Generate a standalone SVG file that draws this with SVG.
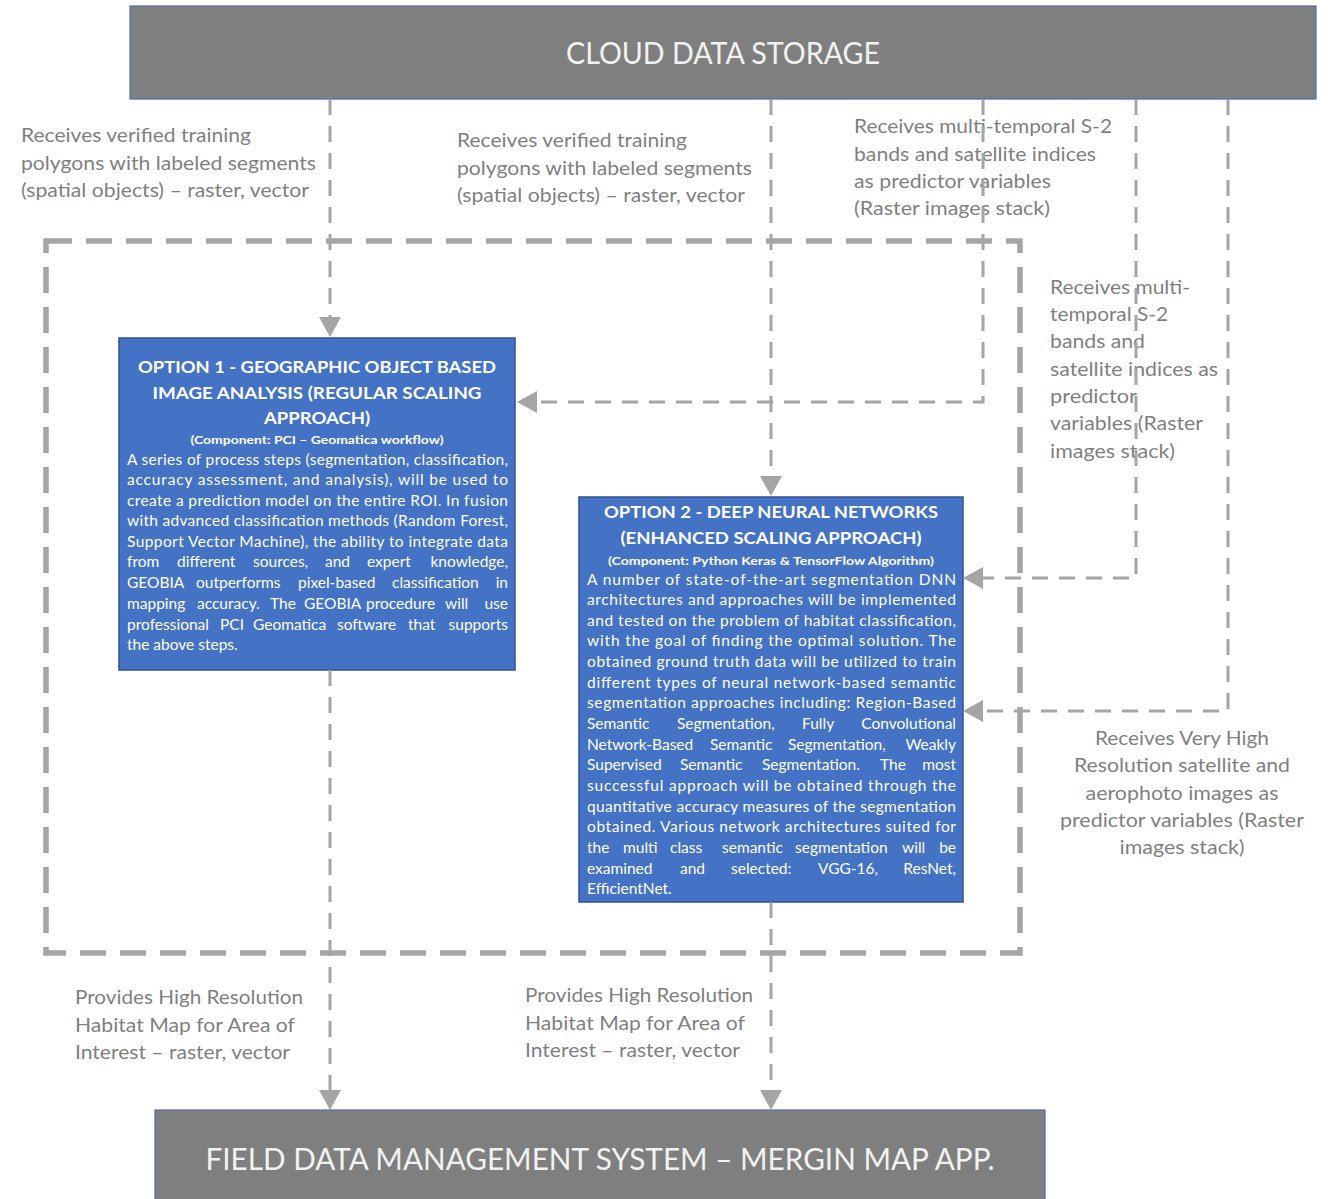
<svg xmlns="http://www.w3.org/2000/svg" width="1328" height="1199" viewBox="0 0 1328 1199">
  <style>
    .lbl { font-family: Lato, "Open Sans", "Liberation Sans", sans-serif; font-size: 19px; fill: #7f7f7f; }
    .lblc { text-anchor: middle; }
    .big { font-family: Lato, "Open Sans", "Liberation Sans", sans-serif; font-size: 30px; fill: #f2f2f2; text-anchor: middle; }
    .ttl { font-family: Lato, "Open Sans", "Liberation Sans", sans-serif; font-size: 17.5px; font-weight: 700; fill: #ffffff; text-anchor: middle; }
    .cmp { font-family: Lato, "Open Sans", "Liberation Sans", sans-serif; font-size: 12px; font-weight: 700; fill: #ffffff; text-anchor: middle; }
    .body { font-family: Lato, "Open Sans", "Liberation Sans", sans-serif; font-size: 15.5px; fill: #ffffff; }
    .end { text-anchor: end; }
    .store { fill: #7f7f7f; stroke: #4a6db0; stroke-width: 1.2; }
    .opt { fill: #4472c4; stroke: #2f528f; stroke-width: 1.5; }
    .conn { fill: none; stroke: #a5a5a5; stroke-width: 3; stroke-dasharray: 16 11; }
    .frame { fill: none; stroke: #a5a5a5; stroke-width: 5.5; stroke-dasharray: 26 14; }
  </style>
  <defs>
    <marker id="arrow" markerUnits="userSpaceOnUse" viewBox="0 0 20 22" markerWidth="20" markerHeight="22" refX="0" refY="11" orient="auto">
      <path d="M0,0 L20,11 L0,22 z" fill="#a5a5a5"/>
    </marker>
  </defs>

  <!-- Cloud storage -->
  <g id="cloud-data-storage">
    <rect class="store" x="130" y="6" width="1186" height="93"/>
    <text class="big" x="723" y="64" textLength="314" lengthAdjust="spacingAndGlyphs">CLOUD DATA STORAGE</text>
  </g>

  <!-- Field data management system -->
  <g id="field-data-management">
    <rect class="store" x="155" y="1110" width="890" height="95"/>
    <text class="big" x="600" y="1170" textLength="789" lengthAdjust="spacingAndGlyphs">FIELD DATA MANAGEMENT SYSTEM – MERGIN MAP APP.</text>
  </g>

  <!-- Processing frame around both options -->
  <g id="processing-frame">
    <rect class="frame" x="46" y="241" width="974" height="712"/>
  </g>

  <!-- Connector labels -->
  <g id="labels">
    <text class="lbl" x="21" y="142" textLength="230" lengthAdjust="spacingAndGlyphs">Receives verified training</text>
    <text class="lbl" x="21" y="170" textLength="295" lengthAdjust="spacingAndGlyphs">polygons with labeled segments</text>
    <text class="lbl" x="21" y="197" textLength="288" lengthAdjust="spacingAndGlyphs">(spatial objects) – raster, vector</text>

    <text class="lbl" x="457" y="147" textLength="230" lengthAdjust="spacingAndGlyphs">Receives verified training</text>
    <text class="lbl" x="457" y="175" textLength="295" lengthAdjust="spacingAndGlyphs">polygons with labeled segments</text>
    <text class="lbl" x="457" y="202" textLength="288" lengthAdjust="spacingAndGlyphs">(spatial objects) – raster, vector</text>

    <text class="lbl" x="854" y="133" textLength="258" lengthAdjust="spacingAndGlyphs">Receives multi-temporal S-2</text>
    <text class="lbl" x="854" y="161" textLength="242" lengthAdjust="spacingAndGlyphs">bands and satellite indices</text>
    <text class="lbl" x="854" y="188" textLength="197" lengthAdjust="spacingAndGlyphs">as predictor variables</text>
    <text class="lbl" x="854" y="215" textLength="196" lengthAdjust="spacingAndGlyphs">(Raster images stack)</text>

    <text class="lbl" x="1050" y="294" textLength="140" lengthAdjust="spacingAndGlyphs">Receives multi-</text>
    <text class="lbl" x="1050" y="321" textLength="118" lengthAdjust="spacingAndGlyphs">temporal S-2</text>
    <text class="lbl" x="1050" y="348" textLength="95" lengthAdjust="spacingAndGlyphs">bands and</text>
    <text class="lbl" x="1050" y="376" textLength="168" lengthAdjust="spacingAndGlyphs">satellite indices as</text>
    <text class="lbl" x="1050" y="403" textLength="87" lengthAdjust="spacingAndGlyphs">predictor</text>
    <text class="lbl" x="1050" y="430" textLength="153" lengthAdjust="spacingAndGlyphs">variables (Raster</text>
    <text class="lbl" x="1050" y="458" textLength="125" lengthAdjust="spacingAndGlyphs">images stack)</text>

    <text class="lbl lblc" x="1182" y="745" textLength="174" lengthAdjust="spacingAndGlyphs">Receives Very High</text>
    <text class="lbl lblc" x="1182" y="772" textLength="216" lengthAdjust="spacingAndGlyphs">Resolution satellite and</text>
    <text class="lbl lblc" x="1182" y="800" textLength="193" lengthAdjust="spacingAndGlyphs">aerophoto images as</text>
    <text class="lbl lblc" x="1182" y="827" textLength="244" lengthAdjust="spacingAndGlyphs">predictor variables (Raster</text>
    <text class="lbl lblc" x="1182" y="854" textLength="125" lengthAdjust="spacingAndGlyphs">images stack)</text>

    <text class="lbl" x="75" y="1004" textLength="228" lengthAdjust="spacingAndGlyphs">Provides High Resolution</text>
    <text class="lbl" x="75" y="1032" textLength="220" lengthAdjust="spacingAndGlyphs">Habitat Map for Area of</text>
    <text class="lbl" x="75" y="1059" textLength="215" lengthAdjust="spacingAndGlyphs">Interest – raster, vector</text>

    <text class="lbl" x="525" y="1002" textLength="228" lengthAdjust="spacingAndGlyphs">Provides High Resolution</text>
    <text class="lbl" x="525" y="1030" textLength="220" lengthAdjust="spacingAndGlyphs">Habitat Map for Area of</text>
    <text class="lbl" x="525" y="1057" textLength="215" lengthAdjust="spacingAndGlyphs">Interest – raster, vector</text>
  </g>

  <!-- Option 1: GEOBIA -->
  <g id="option-1-geobia">
    <rect class="opt" x="119" y="338" width="396" height="332"/>
    <text class="ttl" x="317" y="373" textLength="358" lengthAdjust="spacingAndGlyphs">OPTION 1 - GEOGRAPHIC OBJECT BASED</text>
    <text class="ttl" x="317" y="399" textLength="329" lengthAdjust="spacingAndGlyphs">IMAGE ANALYSIS (REGULAR SCALING</text>
    <text class="ttl" x="317" y="424" textLength="106" lengthAdjust="spacingAndGlyphs">APPROACH)</text>
    <text class="cmp" x="317" y="444" textLength="253" lengthAdjust="spacingAndGlyphs">(Component: PCI – Geomatica workflow)</text>
    <text class="body" x="127" y="465" textLength="381" lengthAdjust="spacing">A series of process steps (segmentation, classification,</text>
    <text class="body" x="127" y="485" textLength="381" lengthAdjust="spacing">accuracy assessment, and analysis), will be used to</text>
    <text class="body" x="127" y="506" textLength="381" lengthAdjust="spacing">create a prediction model on the entire ROI. In fusion</text>
    <text class="body" x="127" y="526" textLength="381" lengthAdjust="spacing">with advanced classification methods (Random Forest,</text>
    <text class="body" x="127" y="547" textLength="381" lengthAdjust="spacing">Support Vector Machine), the ability to integrate data</text>
    <text class="body" y="567"><tspan x="127">from</tspan><tspan x="177">different</tspan><tspan x="253">sources,</tspan><tspan x="325">and</tspan><tspan x="367">expert</tspan></text>
    <text class="body end" x="508" y="567">knowledge,</text>
    <text class="body" y="588"><tspan x="127">GEOBIA</tspan><tspan x="196">outperforms</tspan><tspan x="298">pixel-based</tspan><tspan x="392">classification</tspan></text>
    <text class="body end" x="508" y="588">in</text>
    <text class="body" y="609"><tspan x="127">mapping</tspan><tspan x="197">accuracy.</tspan><tspan x="270">The</tspan><tspan x="304">GEOBIA</tspan><tspan x="366">procedure</tspan><tspan x="445">will</tspan></text>
    <text class="body end" x="508" y="609">use</text>
    <text class="body" y="630"><tspan x="127">professional</tspan><tspan x="220">PCI</tspan><tspan x="253">Geomatica</tspan><tspan x="337">software</tspan><tspan x="408">that</tspan></text>
    <text class="body end" x="508" y="630">supports</text>
    <text class="body" x="127" y="650">the above steps.</text>
  </g>

  <!-- Option 2: Deep neural networks -->
  <g id="option-2-dnn">
    <rect class="opt" x="579" y="497" width="384" height="405"/>
    <text class="ttl" x="771" y="518" textLength="334" lengthAdjust="spacingAndGlyphs">OPTION 2 - DEEP NEURAL NETWORKS</text>
    <text class="ttl" x="771" y="544" textLength="301" lengthAdjust="spacingAndGlyphs">(ENHANCED SCALING APPROACH)</text>
    <text class="cmp" x="771" y="565" textLength="326" lengthAdjust="spacingAndGlyphs">(Component: Python Keras &amp; TensorFlow Algorithm)</text>
    <text class="body" x="587" y="585" textLength="369" lengthAdjust="spacing">A number of state-of-the-art segmentation DNN</text>
    <text class="body" x="587" y="605" textLength="369" lengthAdjust="spacing">architectures and approaches will be implemented</text>
    <text class="body" x="587" y="626" textLength="369" lengthAdjust="spacing">and tested on the problem of habitat classification,</text>
    <text class="body" x="587" y="646" textLength="369" lengthAdjust="spacing">with the goal of finding the optimal solution. The</text>
    <text class="body" x="587" y="667" textLength="369" lengthAdjust="spacing">obtained ground truth data will be utilized to train</text>
    <text class="body" x="587" y="688" textLength="369" lengthAdjust="spacing">different types of neural network-based semantic</text>
    <text class="body" x="587" y="708" textLength="369" lengthAdjust="spacing">segmentation approaches including: Region-Based</text>
    <text class="body" y="729"><tspan x="587">Semantic</tspan><tspan x="677">Segmentation,</tspan><tspan x="802">Fully</tspan></text>
    <text class="body end" x="956" y="729">Convolutional</text>
    <text class="body" y="750"><tspan x="587">Network-Based</tspan><tspan x="710">Semantic</tspan><tspan x="788">Segmentation,</tspan></text>
    <text class="body end" x="956" y="750">Weakly</text>
    <text class="body" y="770"><tspan x="587">Supervised</tspan><tspan x="680">Semantic</tspan><tspan x="762">Segmentation.</tspan><tspan x="880">The</tspan></text>
    <text class="body end" x="956" y="770">most</text>
    <text class="body" x="587" y="791" textLength="369" lengthAdjust="spacing">successful approach will be obtained through the</text>
    <text class="body" x="587" y="812" textLength="369" lengthAdjust="spacing">quantitative accuracy measures of the segmentation</text>
    <text class="body" x="587" y="832" textLength="369" lengthAdjust="spacing">obtained. Various network architectures suited for</text>
    <text class="body" y="853"><tspan x="587">the</tspan><tspan x="623">multi</tspan><tspan x="670">class</tspan><tspan x="722">semantic</tspan><tspan x="795">segmentation</tspan><tspan x="902">will</tspan></text>
    <text class="body end" x="956" y="853">be</text>
    <text class="body" y="874"><tspan x="587">examined</tspan><tspan x="680">and</tspan><tspan x="731">selected:</tspan><tspan x="818">VGG-16,</tspan></text>
    <text class="body end" x="956" y="874">ResNet,</text>
    <text class="body" x="587" y="894">EfficientNet.</text>
  </g>

  <!-- Data flow connectors -->
  <g id="connectors">
    <path class="conn" d="M330,99 V317" marker-end="url(#arrow)"/>
    <path class="conn" d="M771,99 V476" marker-end="url(#arrow)"/>
    <path class="conn" d="M983,99 V402 H537" marker-end="url(#arrow)"/>
    <path class="conn" d="M1136,99 V578 H983" marker-end="url(#arrow)"/>
    <path class="conn" d="M1228,99 V711 H983" marker-end="url(#arrow)"/>
    <path class="conn" d="M330,670 V1090" marker-end="url(#arrow)"/>
    <path class="conn" d="M771,902 V1090" marker-end="url(#arrow)"/>
  </g>
</svg>
